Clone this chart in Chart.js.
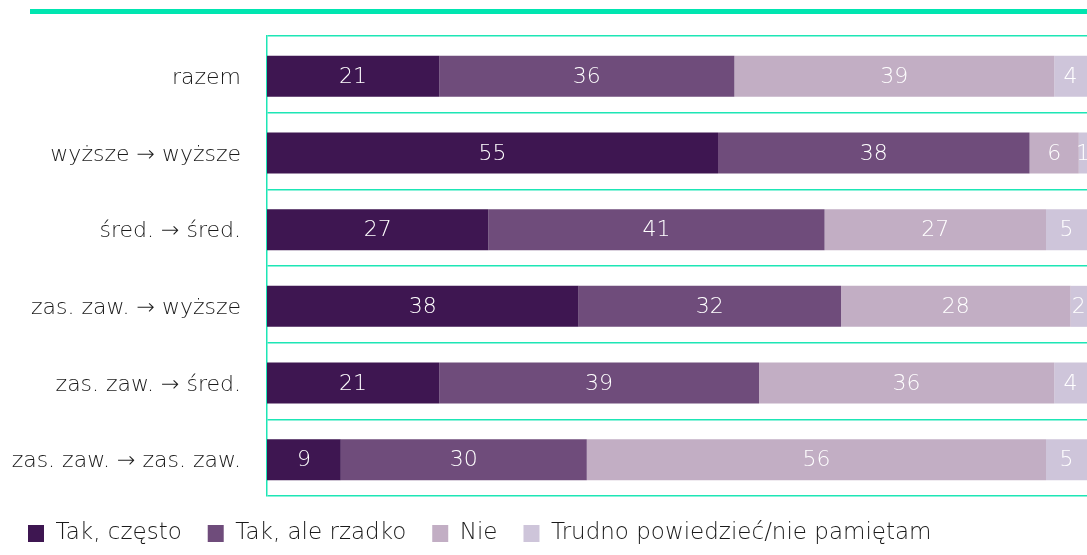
<!DOCTYPE html>
<html>
<head>
<meta charset="utf-8">
<script src="https://cdn.jsdelivr.net/npm/chart.js@4"></script>
<style>
  html, body { margin: 0; padding: 0; background: #fff; }
  #wrap { width: 1087px; height: 555px; position: relative; }
</style>
</head>
<body>
<div id="wrap"><canvas id="chart"></canvas></div>
<script>
// kategorie i serie
const categories = [
  "razem",
  "wyższe → wyższe",
  "śred. → śred.",
  "zas. zaw. → wyższe",
  "zas. zaw. → śred.",
  "zas. zaw. → zas. zaw."
];
const seriesNames = ["Tak, często", "Tak, ale rzadko", "Nie", "Trudno powiedzieć/nie pamiętam"];
const takCzesto = [21, 55, 27, 38, 21, 9];
const takRzadko = [36, 38, 41, 32, 39, 30];
const nie = [39, 6, 27, 28, 36, 56];
const trudno = [4, 1, 5, 2, 4, 5];
const colors = ["#3e1651", "#6f4c7b", "#c2aec4", "#cec5da"];

const FONT = "'DejaVu Sans', sans-serif";
const GREEN = "#1de6b5";
const SHIFT = 2; // słupki lekko niżej niż środek pasa

// przesunięcie słupków i etykiety z wartościami
const valueLabels = {
  id: "valueLabels",
  beforeDatasetsDraw(chart) {
    chart.ctx.save();
    chart.ctx.translate(0, SHIFT);
  },
  afterDatasetsDraw(chart) {
    const ctx = chart.ctx;
    ctx.restore();
    ctx.save();
    ctx.fillStyle = "#ffffff";
    ctx.font = "300 22px " + FONT;
    ctx.textAlign = "center";
    ctx.textBaseline = "middle";
    chart.data.datasets.forEach((ds, i) => {
      chart.getDatasetMeta(i).data.forEach((bar, j) => {
        const cx = (bar.x + bar.base) / 2;
        ctx.fillText(String(ds.data[j]), cx, bar.y + SHIFT + 1);
      });
    });
    ctx.restore();
  }
};

// gruba zielona linia u góry
const topLine = {
  id: "topLine",
  beforeDraw(chart) {
    const ctx = chart.ctx;
    ctx.save();
    ctx.fillStyle = "#00e5b0";
    ctx.fillRect(30, 9, chart.width - 30, 5);
    ctx.restore();
  }
};

const data = [takCzesto, takRzadko, nie, trudno];

new Chart(document.getElementById("chart"), {
  type: "bar",
  data: {
    labels: categories,
    datasets: data.map((d, i) => ({
      label: seriesNames[i],
      data: d,
      backgroundColor: colors[i],
      borderWidth: 0,
      barPercentage: 0.535,
      categoryPercentage: 1
    }))
  },
  options: {
    indexAxis: "y",
    responsive: true,
    maintainAspectRatio: false,
    animation: false,
    layout: { padding: { top: 36, right: 0, left: 2, bottom: 0 } },
    scales: {
      x: {
        stacked: true,
        min: 0,
        max: 100,
        grid: { display: false },
        border: { display: false },
        ticks: { display: false },
        afterFit: (scale) => { scale.height = 0; }
      },
      y: {
        stacked: true,
        afterFit: (scale) => {
          scale.width = 265;
          scale.paddingTop = 0;
          scale.paddingBottom = 0;
        },
        grid: { color: GREEN, lineWidth: 1.5, drawTicks: false, offset: true },
        border: { color: GREEN, width: 1.5 },
        ticks: { color: "#1a1a1a", font: { size: 22, family: FONT, weight: 300 }, padding: 26, labelOffset: 4 }
      }
    },
    plugins: {
      tooltip: { enabled: false },
      legend: {
        position: "bottom",
        align: "start",
        labels: {
          boxWidth: 16,
          boxHeight: 17,
          color: "#1a1a1a",
          font: { size: 23, family: FONT, weight: 300 },
          padding: 26
        }
      }
    }
  },
  plugins: [valueLabels, topLine]
});
</script>
</body>
</html>
